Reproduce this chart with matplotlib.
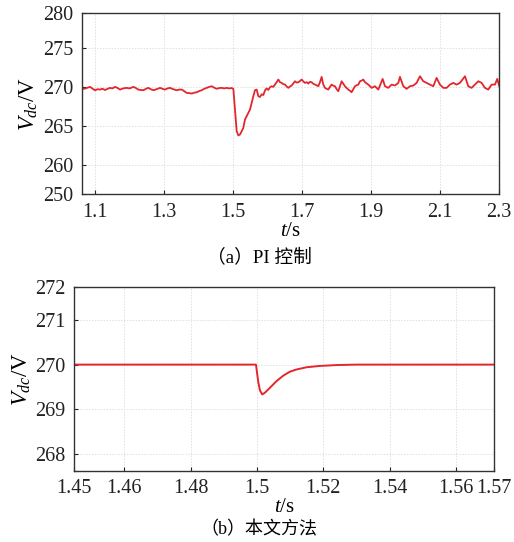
import matplotlib
matplotlib.use("Agg")
import matplotlib.pyplot as plt
from matplotlib.ticker import FixedLocator, FixedFormatter

plt.rcParams["font.family"] = ["Liberation Serif", "Noto Sans CJK SC"]
plt.rcParams["mathtext.fontset"] = "custom"
plt.rcParams["mathtext.rm"] = "Liberation Serif"
plt.rcParams["mathtext.it"] = "Liberation Serif:italic"

# (a) PI control: DC-link voltage
t_pi = [1.061, 1.072, 1.085, 1.093, 1.100, 1.107, 1.114, 1.121, 1.129, 1.136,
        1.143, 1.150, 1.158, 1.165, 1.172, 1.181, 1.191, 1.200, 1.211, 1.218,
        1.225, 1.232, 1.240, 1.247, 1.254, 1.261, 1.269, 1.278, 1.288, 1.295,
        1.302, 1.310, 1.317, 1.326, 1.336, 1.344, 1.351, 1.358, 1.365, 1.372,
        1.380, 1.387, 1.394, 1.401, 1.409, 1.416, 1.423, 1.431, 1.438, 1.445,
        1.452, 1.460, 1.467, 1.474, 1.481, 1.488, 1.496, 1.5006,
        1.5054, 1.5102, 1.5150, 1.5199, 1.5247, 1.5295, 1.5344, 1.5392, 1.5440,
        1.5489, 1.5537, 1.5585, 1.5633, 1.5682, 1.5730, 1.5778, 1.5827, 1.5875,
        1.5923, 1.5972, 1.6020, 1.6068, 1.6117, 1.6165, 1.6213, 1.6261, 1.6310,
        1.6358, 1.6406, 1.6455, 1.6503, 1.6551, 1.6599, 1.6648, 1.6696, 1.6745,
        1.6793, 1.6841, 1.6889, 1.6937, 1.6986, 1.7034, 1.7082, 1.7131, 1.7179,
        1.7227, 1.7275, 1.7324, 1.7372, 1.7420, 1.7469, 1.7517, 1.7565, 1.7613,
        1.7662, 1.7710, 1.7758, 1.7807, 1.7855, 1.7903, 1.7952, 1.8000, 1.8048,
        1.8097, 1.8145, 1.8193, 1.8241, 1.8290, 1.8338, 1.8386, 1.8434, 1.8483,
        1.8531, 1.8580, 1.8628, 1.8677, 1.8724, 1.8773, 1.8822, 1.8919, 1.9015,
        1.9112, 1.9208, 1.9334, 1.9402, 1.9498, 1.9595, 1.9691, 1.9788, 1.9836,
        1.9933, 2.0029, 2.0126, 2.0223, 2.0319, 2.0416, 2.0512, 2.0609, 2.0706,
        2.0802, 2.0899, 2.0995, 2.1092, 2.1189, 2.1285, 2.1382, 2.1478, 2.1575,
        2.1720, 2.1817, 2.1913, 2.2010, 2.2106, 2.2203, 2.2299, 2.2396, 2.2493,
        2.2589, 2.2657, 2.2715]
v_pi = [269.70, 269.80, 270.00, 269.75, 269.55, 269.70, 269.65, 269.75, 269.60, 269.75,
        269.87, 269.80, 270.00, 269.85, 269.65, 269.80, 269.87, 269.80, 270.00, 269.85,
        269.65, 269.60, 269.57, 269.75, 269.87, 269.70, 269.57, 269.70, 269.87, 269.75,
        269.65, 269.80, 269.87, 269.70, 269.57, 269.65, 269.65, 269.45, 269.23, 269.20,
        269.14, 269.25, 269.30, 269.45, 269.57, 269.75, 269.87, 270.00, 270.08, 269.90,
        269.75, 269.85, 269.87, 269.80, 269.87, 269.80, 269.85, 269.74,
        267.09, 264.31, 263.76, 263.88, 264.31, 264.74, 265.81, 266.23, 266.66,
        267.09, 267.94, 268.80, 269.57, 269.65, 268.80, 268.70, 269.05, 268.95,
        269.55, 269.80, 269.60, 269.95, 270.08, 270.00, 270.29, 270.60, 270.94,
        270.60, 270.51, 270.35, 270.29, 270.05, 269.87, 270.05, 270.17, 270.45,
        270.72, 270.55, 270.59, 270.75, 270.94, 270.70, 270.51, 270.60, 270.42,
        270.65, 270.59, 270.40, 270.29, 270.20, 270.08, 270.60, 271.28, 270.30,
        269.87, 269.75, 269.65, 270.00, 270.29, 270.15, 270.08, 269.70, 269.44,
        270.10, 270.72, 270.40, 270.08, 269.85, 269.65, 269.50, 269.31, 269.70,
        270.08, 270.20, 270.29, 270.72, 270.80, 270.94, 270.60, 270.29, 269.87,
        270.08, 269.65, 271.02, 270.08, 269.87, 270.29, 270.17, 270.51, 271.28,
        270.08, 269.74, 270.08, 270.17, 270.51, 271.36, 270.72, 270.51, 270.29,
        270.08, 271.15, 270.29, 269.87, 269.87, 270.29, 270.51, 270.29, 270.51,
        271.36, 270.08, 269.87, 270.29, 270.72, 270.51, 269.87, 269.65, 270.29,
        270.29, 271.02, 270.08]

# (b) proposed method: DC-link voltage
t_new = [1.4448, 1.4997, 1.5004, 1.5009, 1.5016, 1.5024, 1.5039, 1.5059, 1.5079,
         1.5099, 1.5119, 1.5149, 1.5189, 1.5240, 1.5300, 1.5716]
v_new = [270.00, 270.00, 269.60, 269.42, 269.33, 269.37, 269.48, 269.63, 269.75,
         269.84, 269.89, 269.94, 269.97, 269.99, 270.00, 270.00]

# Axis ticks and their labels
xticks_a = [1.1, 1.3, 1.5, 1.7, 1.9, 2.1, 2.271]
xlabels_a = ["1.1", "1.3", "1.5", "1.7", "1.9", "2.1", "2.3"]
yticks_a = [256.2, 260, 265, 270, 275, 279.45]
ylabels_a = ["250", "260", "265", "270", "275", "280"]

xticks_b = [1.4448, 1.46, 1.48, 1.50, 1.52, 1.54, 1.56, 1.5716]
xlabels_b = ["1.45", "1.46", "1.48", "1.5", "1.52", "1.54", "1.56", "1.57"]
yticks_b = [267.61, 268, 269, 270, 271, 271.75]
ylabels_b = ["", "268", "269", "270", "271", "272"]

RED = "#e3262d"

fig = plt.figure(figsize=(5.14, 5.42), dpi=100)
ax1 = fig.add_axes([0.159, 0.6415, 0.812, 0.334])
ax2 = fig.add_axes([0.144, 0.131, 0.8177, 0.340])


def style(ax, xt, xl, yt, yl, x0):
    ax.xaxis.set_major_locator(FixedLocator(xt))
    ax.xaxis.set_major_formatter(FixedFormatter(xl))
    ax.yaxis.set_major_locator(FixedLocator(yt))
    ax.yaxis.set_major_formatter(FixedFormatter(yl))
    ax.set_xlim(x0, xt[-1])
    ax.set_ylim(yt[0], yt[-1])
    ax.grid(True, linestyle=(0, (1.5, 1.5)), color="#e0e0e0", linewidth=0.7)
    ax.tick_params(direction="in", length=3, width=0.8, labelsize=14.5,
                   colors="#222222", pad=6)
    for s in ax.spines.values():
        s.set_linewidth(1.0)
        s.set_color("#333333")
    ax.set_axisbelow(True)


ax1.plot(t_pi, v_pi, color=RED, linewidth=1.3)
style(ax1, xticks_a, xlabels_a, yticks_a, ylabels_a, 1.061)

ax2.plot(t_new, v_new, color=RED, linewidth=1.4)
style(ax2, xticks_b, xlabels_b, yticks_b, ylabels_b, xticks_b[0])

for ax in (ax1, ax2):
    ax.set_xlabel(r"$t$/s", fontsize=15, labelpad=0)
    ax.set_ylabel(r"$V_{dc}$/V", fontsize=16.5, labelpad=2)

fig.text(0.505, 1 - 257 / 542, "（a）PI 控制", ha="center", va="center",
         fontsize=13.5, family=["Liberation Serif", "Noto Sans CJK SC"])
fig.text(0.503, 1 - 530 / 542, "（b）本文方法", ha="center", va="center",
         fontsize=13, family=["Liberation Serif", "Noto Sans CJK SC"])

fig.savefig("out.png", dpi=100, facecolor="white")
